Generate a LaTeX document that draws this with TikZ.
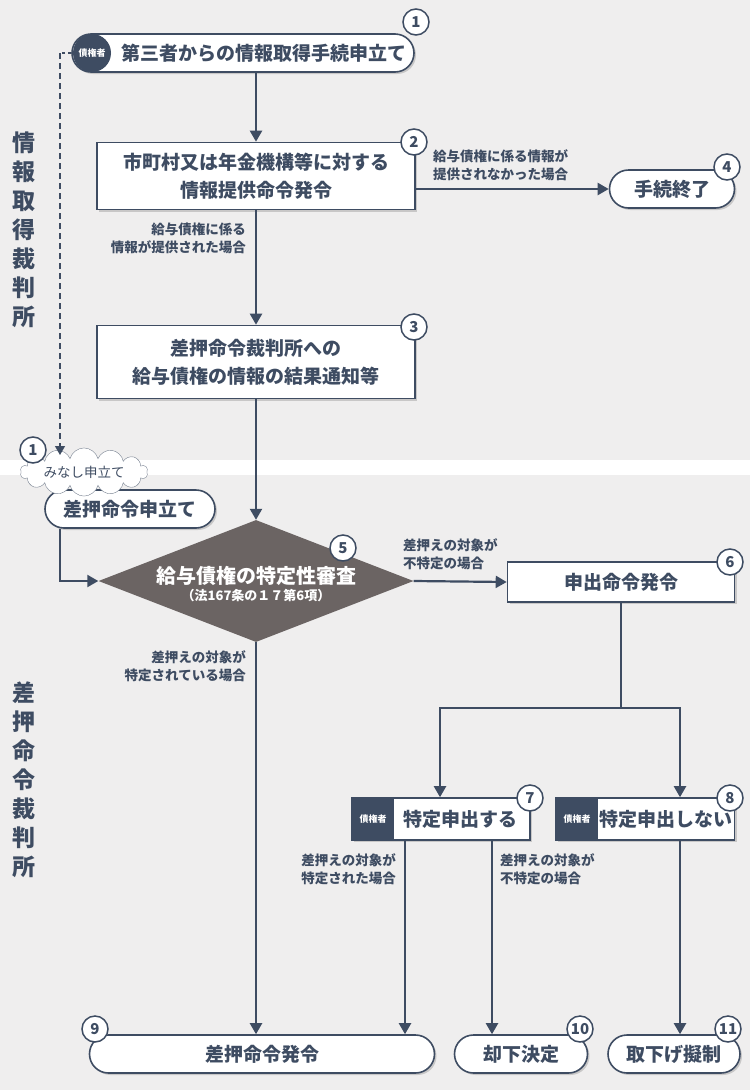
\documentclass[tikz,border=0pt]{standalone}
\usepackage{fontspec}
\setmainfont{Noto Sans CJK JP}
\usetikzlibrary{positioning}
\usetikzlibrary{arrows.meta}
\usetikzlibrary{shapes.geometric,shapes.symbols}
\usetikzlibrary{shadows}
\definecolor{navy}{HTML}{3E4C62}
\definecolor{bgray}{HTML}{EFEEEE}
\definecolor{dgray}{HTML}{6B6463}
\tikzset{
  box/.style={draw=navy, line width=1.6pt, fill=white, inner sep=0pt, align=center,
    font=\fontsize{19}{28}\selectfont\bfseries, text=navy,
    drop shadow={shadow xshift=2pt, shadow yshift=-2pt, opacity=.35}},
  pill/.style={box, rounded corners=19pt},
  badge/.style={circle, draw=navy, line width=1.5pt, fill=white, minimum size=26pt,
    inner sep=0pt, font=\fontsize{15}{15}\selectfont\bfseries, text=navy},
  tag/.style={fill=navy, text=white, inner sep=0pt, font=\fontsize{9}{9}\selectfont\bfseries},
  txt/.style={text=navy, inner sep=0pt, font=\fontsize{19}{19}\selectfont\bfseries},
  lbl/.style={text=navy, font=\fontsize{13.5}{18}\selectfont\bfseries, inner sep=0pt},
  side/.style={text=navy, font=\fontsize{23}{29}\selectfont\bfseries, align=center, inner sep=0pt},
  flow/.style={navy, line width=2.2pt, -{Triangle[length=11pt,width=12pt]}},
  line/.style={navy, line width=2.2pt},
}
\begin{document}
\begin{tikzpicture}[x=1pt,y=-1pt]
  % background
  \fill[bgray] (0,0) rectangle (750,1090);
  \fill[white] (0,460) rectangle (750,475);
  \useasboundingbox (0,0) rectangle (750,1090);

  % side labels
  \node[side] at (24,230) {情\\報\\取\\得\\裁\\判\\所};
  \node[side] at (24,780) {差\\押\\命\\令\\裁\\判\\所};

  % nodes
  \node[pill, minimum width=342pt, minimum height=38pt] (n1) at (243,53) {};
  \fill[navy] (92,53) circle (19pt);
  \node[tag, fill=none] at (92,53) {債権者};
  \node[txt] at (264,53) {第三者からの情報取得手続申立て};
  \node[box, minimum width=318pt, minimum height=67pt] (b2) at (256,176) {市町村又は年金機構等に対する\\情報提供命令発令};
  \node[pill, minimum width=125pt, minimum height=38pt] (n4) at (672,189) {手続終了};
  \node[box, minimum width=318pt, minimum height=73pt] (b3) at (256,362) {差押命令裁判所への\\給与債権の情報の結果通知等};
  \node[pill, minimum width=170pt, minimum height=38pt] (n1b) at (130,509) {差押命令申立て};
  \node[cloud, cloud puffs=14, aspect=4.6, draw=navy!70, fill=white, inner xsep=4pt, inner ysep=2pt,
    text=navy, font=\fontsize{13.5}{13.5}\selectfont] (cl) at (84,472) {みなし申立て};
  \node[diamond, fill=dgray, minimum width=315pt, minimum height=122pt, inner sep=0pt] (d5) at (256,581) {};
  \node[text=white, align=center, inner sep=0pt] at (256,584)
    {{\fontsize{20}{22}\selectfont\bfseries 給与債権の特定性審査}\\[2pt]{\fontsize{13}{14}\selectfont\bfseries（法167条の１７第6項）}};
  \node[box, minimum width=227pt, minimum height=40pt] (b6) at (621,582) {申出命令発令};
  \node[box, minimum width=178pt, minimum height=42pt] (b7) at (441,819) {};
  \node[tag, minimum width=42pt, minimum height=42pt] at (373,819) {債権者};
  \node[txt] at (460,819) {特定申出する};
  \node[box, minimum width=179pt, minimum height=42pt] (b8) at (645,819) {};
  \node[tag, minimum width=42pt, minimum height=42pt] at (577,819) {債権者};
  \node[txt] at (666,819) {特定申出しない};
  \node[pill, minimum width=345pt, minimum height=38pt] (n9) at (262,1054) {差押命令発令};
  \node[pill, minimum width=133pt, minimum height=38pt] (n10) at (521,1054) {却下決定};
  \node[pill, minimum width=132pt, minimum height=38pt] (n11) at (674,1054) {取下げ擬制};

  % badges
  \foreach \pos/\num in {{(416,22)}/1, {(414,142)}/2, {(414,327)}/3, {(727,167)}/4,
      {(33,450)}/1, {(343,548)}/5, {(730,562)}/6, {(530,798)}/7, {(730,798)}/8,
      {(95,1029)}/9, {(580,1029)}/10, {(728,1029)}/11}
    \node[badge] at \pos {\num};

  % connectors
  \coordinate (k1) at (60,53);
  \coordinate (k2) at (60,455);
  \draw[line, line width=1.3pt, dashed] (n1.west) -- (k1);
  \draw[navy, line width=1.3pt, dash pattern=on 6pt off 4pt, -{Triangle[length=9pt,width=10pt]}] (k1) -- (k2);
  \draw[flow] (n1.south -| b2.north) -- (b2.north);
  \draw[flow] (b2.east |- n4.west) -- (n4.west);
  \draw[flow] (b2.south) -- (b3.north);
  \draw[flow] (b3.south) -- (d5.north);
  \draw[flow] ([xshift=-70pt]n1b.south) |- (d5.west);
  \draw[flow] (d5.east) -- (b6.west);
  \coordinate (s6) at (621,708);
  \draw[line] (b6.south) -- (s6);
  \draw[flow] (s6) -| ([xshift=-1pt]b7.north);
  \draw[flow] (s6) -| ([xshift=35pt]b8.north);
  \draw[flow] (d5.south) -- (d5.south |- n9.north);
  \draw[flow] ([xshift=-36pt]b7.south) -- ([xshift=-36pt]b7.south |- n9.north);
  \draw[flow] ([xshift=51pt]b7.south) -- ([xshift=51pt]b7.south |- n10.north);
  \draw[flow] ([xshift=35pt]b8.south) -- ([xshift=35pt]b8.south |- n11.north);

  % edge labels
  \node[lbl, align=left, anchor=south west] at (433,181) {給与債権に係る情報が\\提供されなかった場合};
  \node[lbl, align=right, anchor=north east] at (246,223) {給与債権に係る\\情報が提供された場合};
  \node[lbl, align=left, anchor=south west] at (403,570) {差押えの対象が\\不特定の場合};
  \node[lbl, align=right, anchor=north east] at (246,650) {差押えの対象が\\特定されている場合};
  \node[lbl, align=right, anchor=north east] at (396,853) {差押えの対象が\\特定された場合};
  \node[lbl, align=left, anchor=north west] at (500,853) {差押えの対象が\\不特定の場合};
\end{tikzpicture}
\end{document}
